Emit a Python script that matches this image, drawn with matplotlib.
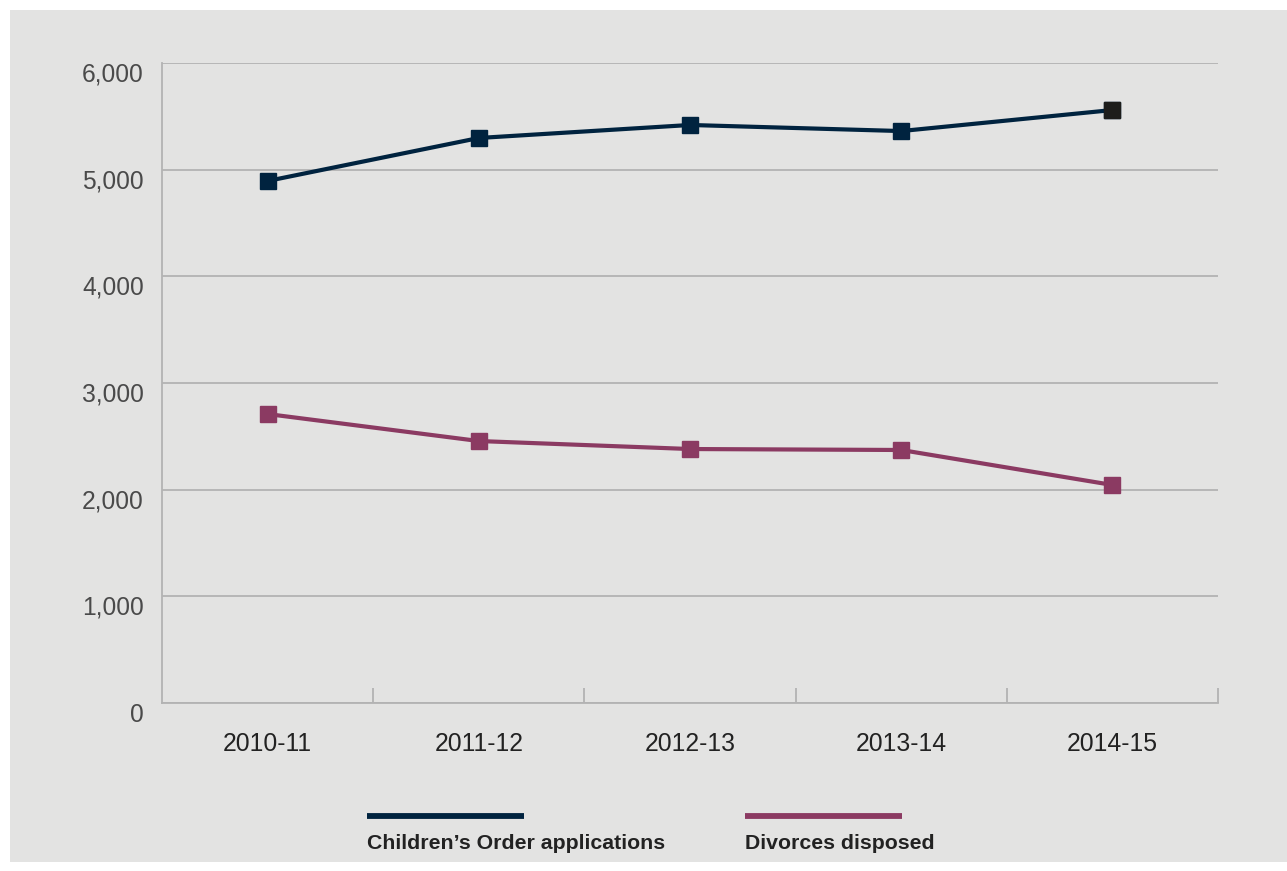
import matplotlib
matplotlib.use("Agg")
import matplotlib.pyplot as plt
from matplotlib.lines import Line2D
from matplotlib.transforms import ScaledTranslation

categories = ["2010-11", "2011-12", "2012-13", "2013-14", "2014-15"]
childrens_order = [4894, 5297, 5419, 5362, 5559]
divorces = [2709, 2456, 2381, 2372, 2044]
series_names = ["Children\u2019s Order applications", "Divorces disposed"]
yticks = [0, 1000, 2000, 3000, 4000, 5000, 6000]

navy = "#00233f"
maroon = "#8b3a62"
bg = "#e3e3e2"
grid = "#b3b3b3"

plt.rcParams['font.family'] = ['Liberation Sans', 'DejaVu Sans']

fig = plt.figure(figsize=(12.87, 8.71), dpi=100)
fig.patch.set_facecolor("white")

bgax = fig.add_axes([10/1287, 9/871, 1 - 10/1287, 1 - 19/871], zorder=-10)
bgax.set_facecolor(bg)
bgax.set_xticks([])
bgax.set_yticks([])
for s in bgax.spines.values():
    s.set_visible(False)

ax = fig.add_axes([162/1287, 1 - 703/871, (1218 - 162)/1287, (703 - 63)/871], zorder=1)
ax.patch.set_alpha(0)

x = list(range(len(categories)))
ax.plot(x, childrens_order, color=navy, lw=3.0, marker="s", markersize=12,
        markerfacecolor=navy, markeredgecolor=navy, zorder=3)
ax.plot(x[-1], childrens_order[-1], marker="s", markersize=12, color="#1d1d1b", zorder=4)
ax.plot(x, divorces, color=maroon, lw=3.0, marker="s", markersize=12,
        markerfacecolor=maroon, markeredgecolor=maroon, zorder=3)

ax.set_xlim(-0.5, len(categories) - 0.5)
ax.set_ylim(0, 6000)
ax.set_yticks(yticks)
ax.set_yticklabels([f"{v:,}" for v in yticks], fontsize=17.7, color="#4a4a4a")
ax.yaxis.grid(True, color=grid, lw=1.3)
ax.set_axisbelow(True)
ax.tick_params(axis="y", length=0, pad=13)
offset = ScaledTranslation(0, -0.09, fig.dpi_scale_trans)
for lab in ax.get_yticklabels():
    lab.set_transform(lab.get_transform() + offset)

ax.set_xticks(x)
ax.set_xticklabels(categories, fontsize=17.8, color="#222222")
ax.tick_params(axis="x", length=0, pad=21)
ax.set_xticks([i + 0.5 for i in range(len(categories))], minor=True)
ax.tick_params(axis="x", which="minor", direction="in", length=11, color=grid, width=1.3)

for s in ["top", "right"]:
    ax.spines[s].set_visible(False)
for s in ["left", "bottom"]:
    ax.spines[s].set_color(grid)
    ax.spines[s].set_linewidth(1.3)

# legend
y_line = 1 - 816/871
y_text = 1 - 843/871
fig.add_artist(Line2D([367/1287, 524/1287], [y_line, y_line], color=navy, lw=4.2,
                      solid_capstyle="butt"))
fig.add_artist(Line2D([745/1287, 902/1287], [y_line, y_line], color=maroon, lw=4.2,
                      solid_capstyle="butt"))
fig.text(367/1287, y_text, series_names[0], fontsize=15.3, fontweight="bold",
         color="#222222", va="center", ha="left")
fig.text(745/1287, y_text, series_names[1], fontsize=15.3, fontweight="bold",
         color="#222222", va="center", ha="left")

fig.savefig("out.png", dpi=100, facecolor="white")
